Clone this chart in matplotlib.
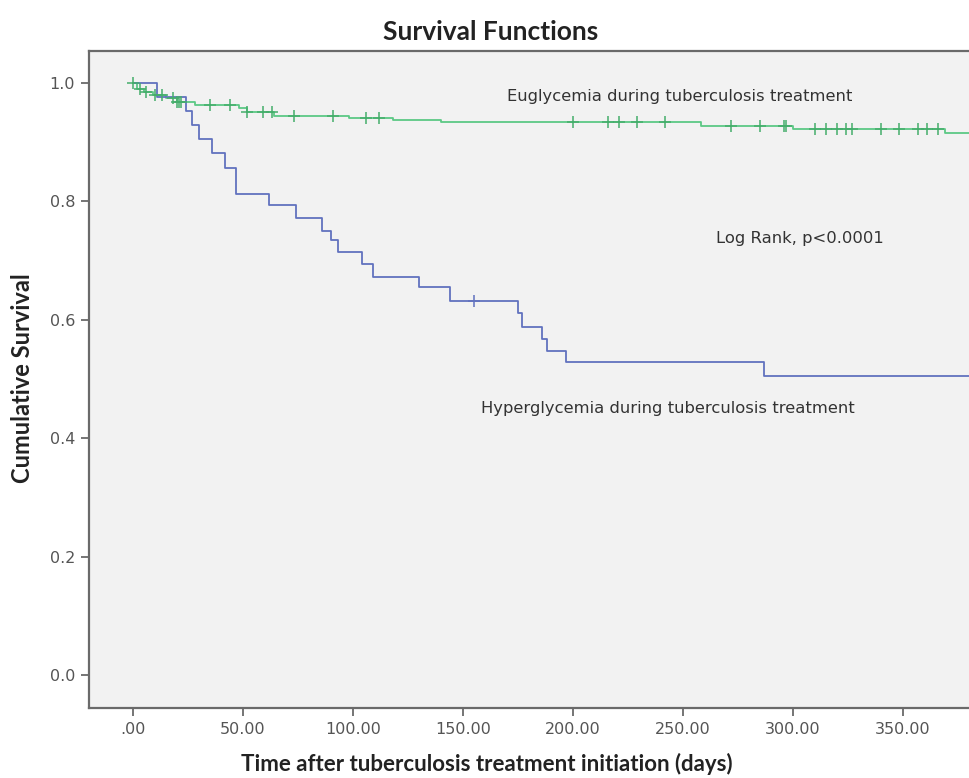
import matplotlib
matplotlib.use('Agg')
import matplotlib.pyplot as plt
import numpy as np

# Kaplan-Meier step values (days, cumulative survival)
hyperDays = [0, 11, 24, 27, 30, 36, 42, 47, 62, 74, 86, 90, 93, 104, 109, 130, 144, 175, 177, 186, 188, 197, 287]
hyperSurv = [1.0, 0.976, 0.952, 0.929, 0.905, 0.881, 0.857, 0.812, 0.794, 0.772, 0.75, 0.735, 0.714, 0.694, 0.672, 0.655, 0.632, 0.611, 0.588, 0.567, 0.548, 0.528, 0.505]
hyperCensored = [155]

euDays = [0, 2, 5, 9, 15, 20, 28, 48, 52, 64, 98, 118, 140, 258, 300, 369]
euSurv = [1.0, 0.99, 0.985, 0.98, 0.975, 0.968, 0.963, 0.958, 0.951, 0.944, 0.941, 0.937, 0.934, 0.927, 0.922, 0.916]
euCensored = [0, 3, 6, 10, 13, 18, 20, 21, 22, 35, 44, 52, 59, 63, 73, 91, 106, 112,
              200, 216, 221, 229, 242, 272, 285, 296, 297, 310, 315, 320, 324, 327,
              340, 348, 357, 361, 366]

followUpEnd = 400

xTicks = [0, 50, 100, 150, 200, 250, 300, 350]
xTickLabels = ['.00', '50.00', '100.00', '150.00', '200.00', '250.00', '300.00', '350.00']
yTicks = [0.0, 0.2, 0.4, 0.6, 0.8, 1.0]
yTickLabels = ['0.0', '0.2', '0.4', '0.6', '0.8', '1.0']

W, H = 970, 778
blue = '#6172bf'
green = '#5cc985'
frame = '#6a6a6a'


# pixel position -> figure fraction
def px(x, y):
    return x / W, 1 - y / H


# survival value of a step function at given times
def survAt(days, surv, times):
    idx = np.searchsorted(days, times, side='right') - 1
    return np.array(surv)[idx]


fig = plt.figure(figsize=(W / 100, H / 100), dpi=100)
left, top = px(89, 51)
_, bottom = px(0, 708)
ax = fig.add_axes([left, bottom, 1 - left, top - bottom])
ax.set_facecolor('#f2f2f2')

# curves
ax.step(euDays + [followUpEnd], euSurv + [euSurv[-1]], where='post', color=green, lw=1.3)
ax.step(hyperDays + [followUpEnd], hyperSurv + [hyperSurv[-1]], where='post', color=blue, lw=1.3)
ax.plot(euCensored, survAt(euDays, euSurv, euCensored), '+', color='#45ad6b', ms=8, mew=1.1)
ax.plot(hyperCensored, survAt(hyperDays, hyperSurv, hyperCensored), '+', color=blue, ms=8, mew=1.1)

ax.set_xlim(-20, 380.5)
ax.set_ylim(-0.0557, 1.054)
ax.set_xticks(xTicks)
ax.set_xticklabels(xTickLabels)
ax.set_yticks(yTicks)
ax.set_yticklabels(yTickLabels)
ax.tick_params(direction='out', length=6, width=1.3, color=frame, labelcolor='#555555',
               labelsize=11.5, pad=4)
for side in ['top', 'left', 'bottom']:
    ax.spines[side].set_color(frame)
    ax.spines[side].set_linewidth(1.6)
ax.spines['right'].set_visible(False)

# annotations inside the plot
ax.text(*px(680, 96), 'Euglycemia during tuberculosis treatment', transform=fig.transFigure,
        ha='center', va='center', fontsize=11.8, color='#333333')
ax.text(*px(800, 238), 'Log Rank, p<0.0001', transform=fig.transFigure,
        ha='center', va='center', fontsize=11.8, color='#333333')
ax.text(*px(668, 409), 'Hyperglycemia during tuberculosis treatment', transform=fig.transFigure,
        ha='center', va='center', fontsize=11.8, color='#333333')

# titles
boldFont = ['Lato', 'DejaVu Sans']
fig.text(*px(491, 32), 'Survival Functions', ha='center', va='center',
         fontsize=19, fontweight='bold', family=boldFont, color='#222222')
fig.text(*px(487, 764), 'Time after tuberculosis treatment initiation (days)', ha='center', va='center',
         fontsize=16, fontweight='bold', family=boldFont, color='#222222')
fig.text(*px(23, 378), 'Cumulative Survival', ha='center', va='center', rotation=90,
         fontsize=17, fontweight='bold', family=boldFont, color='#222222')

fig.savefig('out.png', dpi=100)
